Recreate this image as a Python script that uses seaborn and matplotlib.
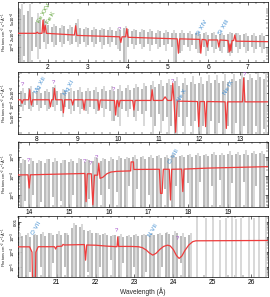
import numpy as np
import matplotlib.pyplot as plt
import seaborn as sns
from matplotlib.ticker import MultipleLocator, NullFormatter

sns.set_theme(style="ticks")
plt.rcParams["font.family"] = ["Liberation Sans", "DejaVu Sans"]
plt.rcParams.update({
    "mathtext.fontset": "custom",
    "mathtext.rm": "Liberation Sans",
    "mathtext.it": "Liberation Sans:italic",
    "mathtext.bf": "Liberation Sans:bold",
    "font.size": 4.8,
    "axes.linewidth": 0.5,
    "axes.edgecolor": "black",
    "xtick.direction": "in", "ytick.direction": "in",
    "xtick.top": True, "ytick.right": True,
    "xtick.major.size": 2.2, "ytick.major.size": 2.2,
    "xtick.minor.size": 1.1, "ytick.minor.size": 1.1,
    "xtick.major.width": 0.4, "ytick.major.width": 0.4,
    "xtick.minor.width": 0.3, "ytick.minor.width": 0.3,
    "xtick.major.pad": 1.5, "ytick.major.pad": 0.3,
    "xtick.labelsize": 4.8, "ytick.labelsize": 3.1,
    "xtick.color": "black", "ytick.color": "black",
})

UNIT = 1e-4  # all fluxes below are in units of 1e-4 photons cm^-2 s^-1 A^-1

# ---------------- panel 1 : 1.25 - 7.5 A ----------------
p1_dark_hi = [9.0, 6.5, 8.0, 5.5, 4.2, 4.8, 5.0, 3.6, 3.2, 3.4,
              3.0, 3.3, 2.9, 3.1, 4.0, 3.0, 2.8, 3.0, 2.7, 2.9,
              2.6, 2.8, 2.6, 2.7, 2.5, 2.6, 3.0, 2.9, 2.5, 2.6,
              2.4, 2.6, 2.4, 2.5, 2.3, 2.5, 2.3, 2.4, 2.3, 2.2,
              2.3, 2.2, 2.3, 2.1, 2.2, 2.1, 2.2, 2.0, 2.2, 2.0,
              2.1, 2.0, 2.1, 2.3, 2.2, 2.0, 2.1, 1.9, 2.0, 1.9,
              2.0, 1.9]
p1_dark_lo = [0, 0.6, 0, 0.8, 1.0, 0.9, 1.3, 1.2, 1.3, 1.1,
              1.3, 1.2, 1.4, 1.2, 1.3, 1.2, 1.3, 1.1, 1.3, 1.2,
              1.3, 1.1, 1.2, 1.3, 1.1, 0.8, 0, 1.0, 1.2, 1.1,
              1.2, 1.0, 1.2, 1.1, 1.2, 1.0, 1.1, 1.2, 1.0, 0,
              0.7, 1.1, 1.0, 1.1, 0.9, 0.7, 1.0, 0.8, 1.0, 0.9,
              0.8, 1.0, 0.7, 0.7, 1.0, 0.9, 1.0, 0.8, 1.0, 0.9,
              1.0, 0.9]
p1_light_hi = [12, 12, 7, 4.5, 3.8, 3.6, 3.5, 5.0, 3.2, 3.2,
               3.0, 3.1, 3.0, 3.4, 2.9, 2.8, 2.8, 2.7, 2.7, 2.6,
               2.6, 2.5, 2.4, 2.4, 2.4, 2.3, 2.4, 2.3, 2.2, 2.2, 2.2]
p1_light_lo = [0, 0, 0.5, 0.9, 1.0, 1.0, 1.1, 1.0, 1.0, 1.0,
               0.9, 1.0, 0.9, 0, 0.9, 0.9, 0.8, 0.9, 0.8, 0,
               0.8, 0.8, 0.7, 0.6, 0.7, 0.7, 0.6, 0.7, 0.7, 0.7, 0.7]
p1_model_wave = [1.25, 1.70, 1.73, 1.76, 1.85, 1.875, 1.90, 1.93, 1.96, 2.66,
                 2.69, 2.72, 3.79, 3.82, 3.85, 3.94, 3.97, 4.00, 5.23, 5.26,
                 5.29, 5.79, 5.82, 5.85, 5.95, 5.98, 6.01, 6.24, 6.27, 6.30,
                 6.50, 6.53, 6.55, 6.57, 6.60, 6.64, 6.67, 6.70, 7.50]
p1_model_flux = [2.2, 2.2, 2.35, 2.2, 2.2, 4.7, 2.3, 3.5, 2.2, 2.0,
                 3.4, 1.95, 1.8, 1.3, 1.8, 1.8, 2.9, 1.75, 1.6, 0.7,
                 1.6, 1.55, 0.7, 1.55, 1.5, 1.0, 1.5, 1.5, 1.0, 1.5,
                 1.45, 0.75, 1.2, 0.8, 1.45, 1.45, 2.0, 1.4, 1.36]
p1_labels = [("Fe XXV", 1.91, 7.1, "green"), ("Fe K", 2.08, 5.3, "green"),
             ("?", 3.79, 2.8, "purple"), ("Si XIV", 5.85, 3.0, "blue"),
             ("Si XIII", 6.40, 3.2, "blue")]

# ---------------- panel 2 : 7.53 - 13.7 A ----------------
p2_dark_hi = [2.2, 2.0, 2.6, 2.1, 2.3, 2.0, 2.2, 2.1, 2.8, 2.2,
              2.0, 2.3, 2.1, 2.2, 2.4, 2.1, 2.3, 2.2, 2.4, 2.1,
              2.5, 2.2, 2.4, 2.3, 2.5, 2.3, 2.6, 2.4, 2.6, 2.8,
              2.5, 3.0, 3.2, 2.8, 3.3, 3.0, 3.5, 3.2, 4.0, 3.0,
              3.6, 3.2, 3.8, 3.4, 3.6, 3.3, 4.0, 3.5, 4.2, 3.6,
              4.0, 3.8, 4.4, 3.9, 4.5, 5.0, 4.2, 4.8, 4.3, 4.9,
              4.5]
p2_dark_lo = [0.9, 1.0, 0.8, 0.9, 1.0, 0.85, 1.0, 0.8, 0.9, 1.0,
              0.7, 0.9, 0.8, 0.7, 0.9, 0.8, 0.7, 0.9, 0.8, 0.7,
              0.85, 0.8, 0.7, 0.4, 0.5, 0.8, 0.7, 0.8, 0.5, 0.7,
              0.6, 0.7, 0.5, 0.3, 0.6, 0.4, 0.5, 0.3, 0.2, 0.5,
              0.3, 0.5, 0.3, 0.4, 0, 0.3, 0, 0.4, 0.2, 0.35,
              0, 0.3, 0.2, 0.35, 0, 0.3, 0.2, 0, 0.3, 0,
              0.25]
p2_light_hi = [2.6, 3.0, 2.6, 2.5, 3.2, 2.5, 2.6, 2.8, 2.7, 2.8,
               2.9, 3.0, 3.1, 3.2, 3.4, 3.6, 4.0, 4.2, 4.5, 5.0,
               4.8, 5.2, 5.0, 5.5, 5.6, 5.8, 6.0, 6.3, 6.0, 6.5, 6.2]
p2_light_lo = [0.7, 0.7, 0.7, 0.7, 0.7, 0.5, 0.6, 0.6, 0.6, 0.6,
               0.5, 0.4, 0.3, 0.5, 0.4, 0.3, 0, 0.2, 0, 0,
               0, 0.1, 0, 0, 0, 0, 0, 0, 0, 0, 0]
p2_model_wave = [7.53, 7.60, 7.63, 7.66, 7.79, 7.82, 7.84, 7.86, 7.89, 8.30,
                 8.33, 8.36, 8.40, 8.43, 8.46, 8.62, 8.65, 8.68, 8.85, 8.88,
                 8.91, 9.13, 9.16, 9.19, 9.50, 9.53, 9.56, 9.91, 9.94, 9.97,
                 9.99, 10.02, 10.05, 10.36, 10.39, 10.42, 10.81, 10.84, 10.87, 11.10,
                 11.16, 11.22, 11.32, 11.35, 11.38, 11.42, 11.46, 11.96, 11.99, 12.02,
                 12.13, 12.16, 12.19, 12.64, 12.67, 12.70, 13.07, 13.10, 13.13, 13.70]
p2_model_flux = [1.35, 1.35, 1.1, 1.35, 1.35, 2.4, 1.35, 1.0, 1.35, 1.35,
                 0.9, 1.35, 1.35, 2.6, 1.35, 1.35, 0.64, 1.35, 1.35, 1.0,
                 1.35, 1.35, 0.75, 1.35, 1.33, 0.75, 1.33, 1.3, 0.56, 1.3,
                 1.3, 0.9, 1.3, 1.3, 0.75, 1.3, 1.3, 2.4, 1.3, 1.3,
                 1.6, 1.3, 1.3, 3.5, 1.25, 0.21, 1.25, 1.22, 0.29, 1.22,
                 1.22, 0.29, 1.22, 1.2, 0.26, 1.2, 1.2, 4.7, 1.2, 1.2]
p2_labels = [("?", 7.64, 3.16, "purple"), ("Mg XII", 8.08, 3.16, "blue"),
             ("?", 8.40, 3.55, "purple"), ("Mg XI", 8.79, 2.66, "blue"),
             ("?", 9.89, 2.5, "purple"), ("?", 11.33, 3.76, "purple"),
             ("Ne X", 11.58, 1.78, "blue"), ("Ne IX", 12.73, 2.8, "blue"),
             ("?", 13.12, 5.6, "purple")]

# ---------------- panel 3 : 13.72 - 20.0 A ----------------
p3_dark_hi = [5.0, 7.0, 4.5, 6.0, 5.0, 6.5, 4.8, 7.5, 5.2, 6.0,
              5.0, 7.0, 5.5, 6.5, 5.0, 8.0, 5.5, 7.0, 6.0, 9.0,
              6.0, 7.5, 6.5, 8.0, 7.0, 9.0, 7.5, 8.5, 10.0, 8.0,
              9.5, 8.0, 10.0, 8.5, 11.0, 9.0, 10.5, 9.0, 12.0, 10.0,
              11.0, 9.5, 12.0, 10.5, 13.0, 11.0, 12.5, 11.0, 14.0, 12.0,
              13.0, 12.0, 15.0, 12.5, 14.0, 13.0, 15.0, 13.5, 16.0, 14.0,
              15.5, 14.5]
p3_dark_lo = [0, 0.05, 0, 0.1, 0, 0.04, 0, 0, 0.08, 0,
              0.05, 0, 0, 0.1, 0, 0, 0, 0.06, 0, 0,
              0.1, 0, 0.2, 0, 0.15, 0, 0, 0.3, 0, 0.2,
              0, 0, 0.1, 0, 0, 0, 0.2, 0, 0, 0.3,
              0, 0, 0.4, 0, 0, 0.5, 0, 0, 0.3, 0,
              0.6, 0, 0, 0.4, 0, 0, 0.5, 0, 0, 0.3,
              0, 0]
p3_light_hi = [8, 9, 7, 8, 9, 7, 8, 9, 8, 10,
               9, 10, 11, 10, 12, 11, 12, 13, 12, 14,
               13, 15, 16, 15, 18, 17, 20, 19, 22, 20, 21]
p3_light_lo = [0] * 31
p3_model_wave = [13.72, 13.97, 14.00, 14.03, 15.40, 15.43, 15.46, 15.56, 15.60, 15.64,
                 15.72, 15.75, 15.78, 15.85, 15.95, 16.05, 16.20, 16.55, 16.56, 16.62,
                 16.63, 17.27, 17.30, 17.34, 17.37, 17.52, 17.55, 17.58, 17.83, 17.86,
                 17.89, 18.50, 20.00]
p3_model_flux = [1.13, 1.15, 0.23, 1.15, 1.35, 0.044, 1.3, 1.3, 0.03, 1.1,
                 1.1, 4.7, 0.75, 0.85, 1.3, 1.6, 1.75, 1.85, 5.5, 5.5,
                 2.2, 2.25, 0.12, 0.12, 2.25, 2.25, 0.054, 2.25, 2.3, 0.15,
                 2.3, 2.6, 3.1]
p3_labels = [("?", 13.98, 6.9, "purple"), ("?", 15.38, 5.45, "purple"),
             ("?", 15.55, 4.8, "purple"), ("?", 15.70, 8.9, "purple"),
             ("O VIII", 17.62, 11.0, "blue")]

# ---------------- panel 4 : 20.0 - 26.44 A ----------------
p4_dark_hi = [12, 14, 11, 15, 13, 16, 12, 18, 14, 16,
              13, 20, 15, 40, 60, 50, 30, 25, 20, 18,
              15, 16, 14, 12, 13, 12, 10, 12, 11, 13,
              12, 14, 13, 15, 14, 16, 15, 18, 16, 14,
              20, 12, 10, 15]
p4_dark_lo = [0, 0, 0.05, 0, 0, 0.1, 0, 0, 0.2, 0,
              0, 0.1, 0, 0, 0, 0, 0, 0.05, 0, 0,
              0.1, 0, 0, 0.3, 0, 0, 0.2, 0, 0, 0.1,
              0, 0, 0.05, 0, 0, 0, 0.1, 0, 0, 0,
              0, 0.2, 0, 0]
p4_light_wave = [20.05, 20.25, 20.45, 20.65, 20.85, 21.05, 21.25, 21.45, 21.65, 21.85,
                 22.05, 22.25, 22.45, 22.65, 22.85, 23.05, 23.25, 23.45, 23.65, 23.85,
                 24.05, 24.25, 24.45, 24.62, 24.85, 25.02, 25.20, 25.35, 25.50, 25.62,
                 25.75, 25.95, 26.08, 26.22, 26.38]
p4_light_hi = [18, 20, 16, 22, 18, 25, 20, 90, 70, 30,
               20, 18, 15, 16, 14, 16, 17, 19, 20, 22,
               25, 18, 20, 200, 180, 220, 150, 200, 240, 170,
               200, 230, 190, 210, 250]
p4_light_lo = [0] * 35
p4_model_wave = [20.00, 20.30, 20.36, 20.38, 20.44, 20.46, 20.52, 20.94, 20.97, 21.00,
                 21.13, 21.16, 21.19, 21.71, 21.74, 21.77, 22.00, 22.30, 22.55, 22.57,
                 22.59, 22.90, 23.10, 23.20, 23.30, 23.38, 23.47, 23.56, 23.65, 23.75,
                 23.85, 23.92, 24.00, 24.08, 24.15, 24.22, 24.30, 24.40, 24.50, 24.58,
                 26.44]
p4_model_flux = [2.26, 2.26, 1.0, 0.001, 0.001, 1.0, 2.3, 2.3, 1.6, 2.4,
                 2.5, 3.3, 3.0, 3.2, 0.29, 3.0, 2.9, 2.5, 2.3, 10.5,
                 2.4, 2.4, 2.3, 2.0, 1.4, 0.9, 0.63, 0.85, 1.5, 2.4,
                 2.9, 2.6, 1.5, 0.6, 0.38, 0.55, 1.3, 3.0, 5.0, 5.7,
                 6.0]
p4_labels = [("O VII", 20.47, 40, "blue"), ("?", 22.53, 29, "purple"),
             ("N VII", 23.47, 29, "blue"), ("?", 24.12, 8.6, "purple")]

LABEL_COLORS = {"green": "#4f9a24", "blue": "#3b8ad0", "purple": "#a44fc8"}
YLABEL = "Photons cm$^{-2}$ s$^{-1}$ Å$^{-1}$"
FLOOR = 1e-12
LEFT, WIDTH = 0.0667, 0.926

panels = [
    dict(rect=[LEFT, 0.791, WIDTH, 0.202], xlim=(1.25, 7.5), ylim=(4.2e-5, 1.33e-3),
         dark=(np.linspace(1.3, 7.4, len(p1_dark_hi)), p1_dark_hi, p1_dark_lo),
         light=(np.linspace(1.35, 7.35, len(p1_light_hi)), p1_light_hi, p1_light_lo),
         model=(p1_model_wave, p1_model_flux), labels=p1_labels,
         yticks=[1e-4, 2e-4, 5e-4],
         yticklabels=[r"$10^{-4}$", r"$2x10^{-4}$", r"$5x10^{-4}$"],
         xticks=[2, 3, 4, 5, 6, 7]),
    dict(rect=[LEFT, 0.549, WIDTH, 0.209], xlim=(7.53, 13.7), ylim=(1.9e-5, 6.7e-4),
         dark=(np.linspace(7.6, 13.6, len(p2_dark_hi)), p2_dark_hi, p2_dark_lo),
         light=(np.linspace(7.65, 13.65, len(p2_light_hi)), p2_light_hi, p2_light_lo),
         model=(p2_model_wave, p2_model_flux), labels=p2_labels,
         yticks=[5e-5, 1e-4, 2e-4],
         yticklabels=[r"$5x10^{-5}$", r"$10^{-4}$", r"$2x10^{-4}$"],
         xticks=[8, 9, 10, 11, 12, 13]),
    dict(rect=[LEFT, 0.303, WIDTH, 0.219], xlim=(13.72, 20.0), ylim=(2.3e-6, 6.2e-3),
         dark=(np.linspace(13.8, 19.9, len(p3_dark_hi)), p3_dark_hi, p3_dark_lo),
         light=(np.linspace(13.85, 19.85, len(p3_light_hi)), p3_light_hi, p3_light_lo),
         model=(p3_model_wave, p3_model_flux), labels=p3_labels,
         yticks=[1e-5, 1e-4, 1e-3],
         yticklabels=[r"$10^{-5}$", r"$10^{-4}$", r"$10^{-3}$"],
         xticks=[14, 15, 16, 17, 18, 19]),
    dict(rect=[LEFT, 0.067, WIDTH, 0.205], xlim=(20.0, 26.44), ylim=(2.15e-6, 2.5e-2),
         dark=(np.linspace(20.1, 24.4, len(p4_dark_hi)), p4_dark_hi, p4_dark_lo),
         light=(p4_light_wave, p4_light_hi, p4_light_lo),
         model=(p4_model_wave, p4_model_flux), labels=p4_labels,
         yticks=[1e-5, 1e-4, 1e-3, 1e-2],
         yticklabels=[r"$10^{-5}$", r"$10^{-4}$", r"$10^{-3}$", "0.01"],
         xticks=[21, 22, 23, 24, 25, 26]),
]

fig = plt.figure(figsize=(2.7, 2.97), dpi=100)

for i, p in enumerate(panels):
    ax = fig.add_axes(p["rect"])
    ax.set_yscale("log")

    # data with error bars: light (HEG-like) under dark (MEG-like)
    for (w, hi, lo), col, lw in [(p["light"], "#d6d6d6", 1.3), (p["dark"], "#ababab", 1.15)]:
        hi = np.asarray(hi, float) * UNIT
        lo = np.maximum(np.asarray(lo, float) * UNIT, FLOOR)
        ax.vlines(w, lo, hi, color=col, lw=lw, zorder=1)

    # best-fit model
    mw, mf = p["model"]
    sns.lineplot(x=mw, y=np.maximum(np.asarray(mf) * UNIT, FLOOR), ax=ax,
                 color="#ee3b3b", lw=0.9, estimator=None, sort=False, zorder=3)

    for text, lam, val, c in p["labels"]:
        ax.text(lam, val * UNIT, text, color=LABEL_COLORS[c], fontsize=4.4,
                rotation=0 if text == "?" else 60, ha="center", va="center", zorder=4)

    ax.set_xlim(*p["xlim"])
    ax.set_ylim(*p["ylim"])
    ax.set_xticks(p["xticks"])
    ax.xaxis.set_minor_locator(MultipleLocator(0.2))
    ax.set_yticks(p["yticks"])
    ax.set_yticklabels(p["yticklabels"], rotation=90, va="center")
    ax.yaxis.set_minor_formatter(NullFormatter())
    ax.set_ylabel(YLABEL, fontsize=2.9, va="center")
    ax.yaxis.set_label_coords(-0.057, 0.5)
    ax.set_xlabel("")
    ax.tick_params(which="both", top=True, right=True)

fig.text(0.53, 0.018, "Wavelength (Å)", ha="center", va="center", fontsize=4.8)

fig.savefig("out.png", dpi=100)
